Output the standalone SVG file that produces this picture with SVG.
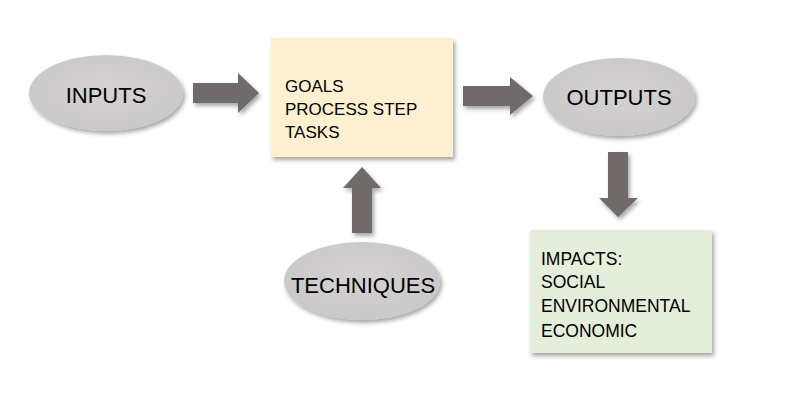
<svg xmlns="http://www.w3.org/2000/svg" width="800" height="411" viewBox="0 0 800 411">
<defs>
<filter id="sh" x="-20%" y="-20%" width="150%" height="150%">
<feDropShadow dx="2" dy="3" stdDeviation="2" flood-color="#000" flood-opacity="0.35"/>
</filter>
<radialGradient id="eg" cx="50%" cy="45%" r="60%">
<stop offset="0" stop-color="#d4d2d2"/>
<stop offset="1" stop-color="#c9c7c7"/>
</radialGradient>
</defs>
<style>
.ell{fill:url(#eg);filter:url(#sh)}
.arr{fill:#6f6b6b;filter:url(#sh)}
.lbl{font-family:"Liberation Sans",Arial,sans-serif;fill:#000}
.big{font-size:22px;text-anchor:middle}
</style>
<rect width="800" height="411" fill="#fff"/>
<g id="connectors">
<polygon class="arr" points="193,83 238,83 238,73 259,93 238,113 238,103 193,103"/>
<polygon class="arr" points="463,86 510,86 510,77 533,96 510,115 510,106 463,106"/>
<polygon class="arr" points="608,152 628,152 628,198 638,198 618,217 599,198 608,198"/>
<polygon class="arr" points="352,233 352,188 343,188 362,167 381,188 372,188 372,233"/>
</g>
<g id="inputs">
<ellipse class="ell" cx="106" cy="93" rx="77" ry="38"/>
<text class="lbl big" x="106" y="103">INPUTS</text>
</g>
<g id="process">
<rect x="271" y="38" width="182" height="119" fill="#fcf0d0" filter="url(#sh)"/>
<text class="lbl" font-size="17" x="285" y="92">GOALS</text>
<text class="lbl" font-size="17" x="285" y="115">PROCESS STEP</text>
<text class="lbl" font-size="17" x="285" y="138">TASKS</text>
</g>
<g id="outputs">
<ellipse class="ell" cx="619" cy="97" rx="76" ry="39"/>
<text class="lbl big" x="619" y="105">OUTPUTS</text>
</g>
<g id="techniques">
<ellipse class="ell" cx="362" cy="281" rx="78" ry="39"/>
<text class="lbl big" font-size="22.5" x="363" y="293">TECHNIQUES</text>
</g>
<g id="impacts">
<rect x="530" y="230" width="182" height="123" fill="#e5eeda" filter="url(#sh)"/>
<text class="lbl" font-size="17.5" x="541" y="265">IMPACTS:</text>
<text class="lbl" font-size="17.5" x="541" y="288">SOCIAL</text>
<text class="lbl" font-size="17.5" x="541" y="312">ENVIRONMENTAL</text>
<text class="lbl" font-size="17.5" x="541" y="337">ECONOMIC</text>
</g>
</svg>
